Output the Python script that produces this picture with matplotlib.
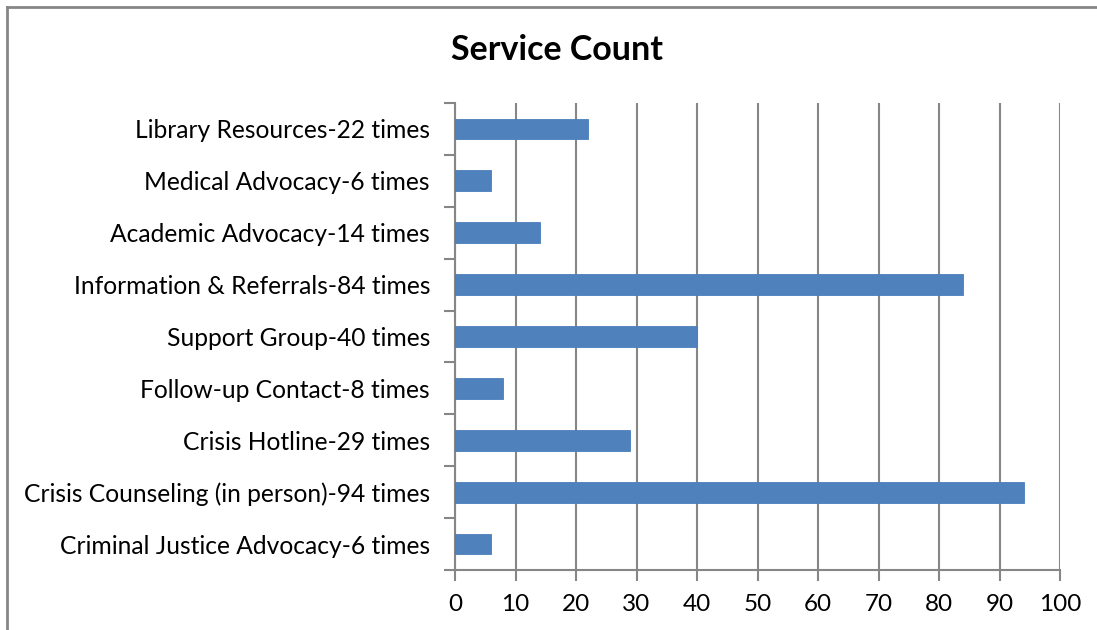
import matplotlib
matplotlib.use("Agg")
import matplotlib.pyplot as plt
from matplotlib.lines import Line2D
import numpy as np

categories = ["Criminal Justice Advocacy-6 times", "Crisis Counseling (in person)-94 times",
              "Crisis Hotline-29 times", "Follow-up Contact-8 times", "Support Group-40 times",
              "Information & Referrals-84 times", "Academic Advocacy-14 times",
              "Medical Advocacy-6 times", "Library Resources-22 times"]
values = [6, 94, 29, 8, 40, 84, 14, 6, 22]
xticks = [0, 10, 20, 30, 40, 50, 60, 70, 80, 90, 100]

plt.rcParams['font.family'] = ['Lato', 'DejaVu Sans']
W, H = 1097, 630
fig = plt.figure(figsize=(W/100, H/100), dpi=100)
ax = fig.add_axes([455/W, 1-570/H, (1060-455)/W, (570-103)/H])

grid_c = "#868686"
y = np.arange(len(categories))
ax.barh(y, values, height=0.4, color="#4F81BD", edgecolor="#4A7EBB", linewidth=0.6, zorder=3)
ax.set_xlim(0, 100)
ax.set_ylim(-0.5, len(categories)-0.5)
ax.set_xticks(xticks)
ax.set_xticklabels([str(t) for t in xticks], fontsize=17.5)
ax.set_yticks(y)
ax.set_yticklabels(categories, fontsize=17.7)
ax.tick_params(axis='y', length=0, pad=18)
ax.set_yticks(np.arange(-0.5, len(categories), 1), minor=True)
ax.tick_params(axis='y', which='minor', length=8, width=1.5, color=grid_c, direction='out')
ax.tick_params(axis='x', length=8, width=1.5, color=grid_c, direction='out', pad=9)
ax.grid(axis='x', color=grid_c, linewidth=1.5, zorder=0)
for s in ['top', 'right']:
    ax.spines[s].set_visible(False)
for s in ['left', 'bottom']:
    ax.spines[s].set_color(grid_c)
    ax.spines[s].set_linewidth(1.5)

fig.text(557/W, 1-50/H, "Service Count", ha='center', va='center', fontsize=24.5, fontweight='bold')

fig.add_artist(Line2D([6.5/W, 6.5/W], [0, 1-6.5/H], color=grid_c, linewidth=2, transform=fig.transFigure))
fig.add_artist(Line2D([6.5/W, 1], [1-6.5/H, 1-6.5/H], color=grid_c, linewidth=2, transform=fig.transFigure))

fig.savefig("out.png", dpi=100)
